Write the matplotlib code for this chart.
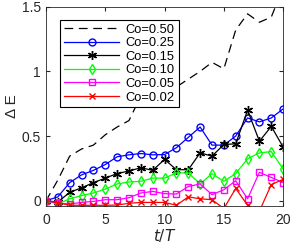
import matplotlib
matplotlib.use("Agg")
import matplotlib.pyplot as plt
import numpy as np

plt.rcParams['font.family'] = ['Liberation Sans', 'DejaVu Sans']

t = list(range(21))
labels = ["Co=0.50", "Co=0.25", "Co=0.15", "Co=0.10", "Co=0.05", "Co=0.02"]
co050 = [0, 0.16, 0.345, 0.40, 0.43, 0.51, 0.57, 0.62, 0.81, 0.83, 0.88, 0.88, 0.94, 1.00, 1.07, 1.02, 1.32, 1.445, 1.38, 1.42, 1.65]
co025 = [0, 0.03, 0.14, 0.20, 0.235, 0.28, 0.34, 0.355, 0.365, 0.355, 0.357, 0.41, 0.49, 0.57, 0.43, 0.43, 0.50, 0.64, 0.61, 0.64, 0.71]
co015 = [0, -0.01, 0.065, 0.10, 0.14, 0.175, 0.21, 0.23, 0.255, 0.235, 0.32, 0.24, 0.24, 0.37, 0.345, 0.435, 0.44, 0.70, 0.46, 0.575, 0.415]
co010 = [0, -0.025, 0.015, 0.04, 0.06, 0.09, 0.13, 0.145, 0.15, 0.175, 0.175, 0.215, 0.215, 0.13, 0.21, 0.15, 0.21, 0.325, 0.37, 0.38, 0.245]
co005 = [0, -0.02, -0.025, -0.013, -0.005, 0.008, 0.008, 0.023, 0.06, 0.072, 0.055, 0.052, 0.11, 0.13, 0.047, 0.085, 0.155, 0.015, 0.22, 0.18, 0.14]
co002 = [0, -0.015, -0.035, -0.035, -0.035, -0.035, -0.033, -0.02, -0.013, -0.013, -0.013, -0.035, 0.03, 0.015, 0.008, -0.06, 0.095, -0.035, -0.08, 0.125, 0.165]

fig = plt.figure(figsize=(2.91, 2.49), dpi=100)
ax = fig.add_axes([0.158, 0.173, 0.815, 0.80])

lw = 0.9
ms = 5
ax.plot(t, co050, color='k', linestyle=(0, (7, 4.5)), lw=lw, label=labels[0])
ax.plot(t, co025, color='b', marker='o', mfc='none', ms=ms, lw=lw, label=labels[1])
ax.plot(t, co015, color='k', marker=(6, 2, 0), ms=ms + 1.5, mew=1.0, lw=lw, label=labels[2])
ax.plot(t, co010, color=(0, 1, 0), marker='d', mfc='none', ms=ms, lw=lw, label=labels[3])
ax.plot(t, co005, color=(1, 0, 1), marker='s', mfc='none', ms=ms - 0.5, lw=lw, label=labels[4])
ax.plot(t, co002, color='r', marker='x', ms=ms, lw=lw, label=labels[5])

ax.set_xlim(0, 20)
ax.set_ylim(-0.04, 1.5)
ax.set_xticks([0, 5, 10, 15, 20])
ax.set_yticks([0, 0.5, 1, 1.5])
ax.set_yticklabels(["0", "0.5", "1", "1.5"])
ax.tick_params(direction='in', top=True, right=True, labelsize=10, length=3,
               colors='#262626', labelcolor='#262626')
ax.tick_params(axis='x', pad=5)
for s in ax.spines.values():
    s.set_color('#262626')
    s.set_linewidth(0.6)

ax.set_xlabel("$t/T$", fontsize=11, color='#262626', labelpad=0)
ax.set_ylabel("Δ E", fontsize=11, color='#262626', labelpad=2)

leg = ax.legend(loc='upper left', bbox_to_anchor=(0.059, 0.935), fontsize=9.3,
                handlelength=4.3, frameon=True, fancybox=False, framealpha=1,
                edgecolor='k', borderpad=0.3, labelspacing=0.12, handletextpad=0.5,
                borderaxespad=0)
leg.get_frame().set_linewidth(0.8)

fig.savefig("out.png", dpi=100)
